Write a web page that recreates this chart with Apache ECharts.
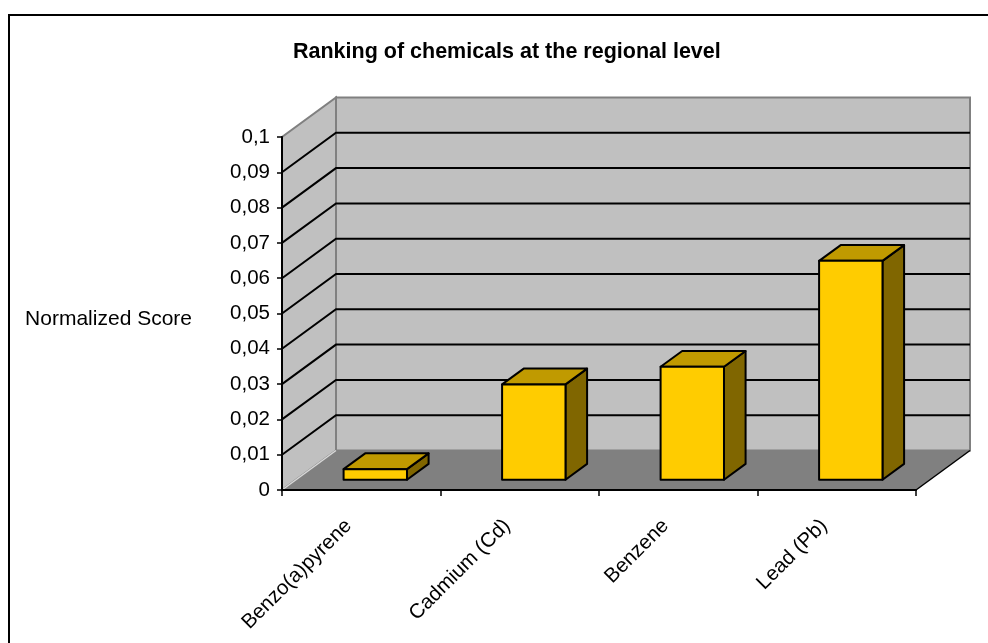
<!DOCTYPE html>
<html>
<head>
<meta charset="utf-8">
<script src="https://cdn.jsdelivr.net/npm/echarts@6/dist/echarts.min.js"></script>
<style>
  html, body { margin: 0; padding: 0; background: #ffffff; }
  #chart { width: 988px; height: 643px; }
</style>
</head>
<body>
<div id="chart"></div>
<script>
// Chemicals ranked by normalized score at the regional level
var categories = ['Benzo(a)pyrene', 'Cadmium (Cd)', 'Benzene', 'Lead (Pb)'];
var scores = [0.003, 0.027, 0.032, 0.062];
var yTicks = [0, 0.01, 0.02, 0.03, 0.04, 0.05, 0.06, 0.07, 0.08, 0.09, 0.1];
var yTickLabels = ['0', '0,01', '0,02', '0,03', '0,04', '0,05', '0,06', '0,07', '0,08', '0,09', '0,1'];

// oblique depth vector of the 3D box (pixels)
var DEPTH = [54, -39.5];
// bars occupy this slice of the depth
var BAR_FRONT = 0.26, BAR_BACK = 0.66;
var BAR_WIDTH_RATIO = 0.4;

var FONT = 'Liberation Sans, Arial, sans-serif';

function shift(p, f) {
  return [p[0] + DEPTH[0] * f, p[1] + DEPTH[1] * f];
}

function renderWalls(params, api) {
  var cs = params.coordSys;
  var left = cs.x, right = cs.x + cs.width;
  var bottom = api.coord([0, yTicks[0]])[1];
  var top = api.coord([0, yTicks[yTicks.length - 1]])[1];
  var children = [];

  // floor
  children.push({
    type: 'polygon',
    shape: { points: [[left, bottom], [right, bottom], shift([right, bottom], 1), shift([left, bottom], 1)] },
    style: { fill: '#808080', stroke: null }
  });
  // back wall
  var bl = shift([left, bottom], 1), tl = shift([left, top], 1);
  var tr = shift([right, top], 1), br = shift([right, bottom], 1);
  children.push({
    type: 'polygon',
    shape: { points: [bl, tl, tr, br] },
    style: { fill: '#c0c0c0', stroke: '#808080', lineWidth: 2 }
  });
  // side wall
  children.push({
    type: 'polygon',
    shape: { points: [[left, bottom], [left, top], tl, bl] },
    style: { fill: '#c0c0c0', stroke: '#808080', lineWidth: 2 }
  });
  // light seam where side wall meets floor
  children.push({
    type: 'line',
    shape: { x1: left, y1: bottom, x2: bl[0], y2: bl[1] },
    style: { stroke: '#d8d8d8', lineWidth: 1.5 }
  });
  // gridlines on both walls
  for (var i = 1; i < yTicks.length - 1; i++) {
    var y = api.coord([0, yTicks[i]])[1];
    var pf = [left, y], pb = shift(pf, 1), pr = shift([right, y], 1);
    children.push({
      type: 'polyline',
      shape: { points: [pf, pb, pr] },
      style: { stroke: '#000000', lineWidth: 2, fill: null }
    });
  }
  // right edge of floor
  children.push({
    type: 'line',
    shape: { x1: right, y1: bottom, x2: br[0], y2: br[1] },
    style: { stroke: '#000000', lineWidth: 1.5 }
  });
  return { type: 'group', children: children };
}

function renderBar(params, api) {
  var idx = api.value(0);
  var val = api.value(1);
  var base = api.coord([idx, 0]);
  var peak = api.coord([idx, val]);
  var w = api.size([1, 0])[0] * BAR_WIDTH_RATIO;
  var x0 = base[0] - w / 2, x1 = base[0] + w / 2;
  var fbl = shift([x0, base[1]], BAR_FRONT), fbr = shift([x1, base[1]], BAR_FRONT);
  var ftl = shift([x0, peak[1]], BAR_FRONT), ftr = shift([x1, peak[1]], BAR_FRONT);
  var btl = shift([x0, peak[1]], BAR_BACK), btr = shift([x1, peak[1]], BAR_BACK);
  var bbr = shift([x1, base[1]], BAR_BACK);
  var edge = { stroke: '#000000', lineWidth: 2, lineJoin: 'round' };
  return {
    type: 'group',
    children: [
      { type: 'polygon', shape: { points: [fbr, ftr, btr, bbr] },
        style: Object.assign({ fill: '#806600' }, edge) },
      { type: 'polygon', shape: { points: [ftl, ftr, btr, btl] },
        style: Object.assign({ fill: '#c09a00' }, edge) },
      { type: 'polygon', shape: { points: [fbl, ftl, ftr, fbr] },
        style: Object.assign({ fill: '#ffcc00' }, edge) }
    ]
  };
}

var chart = echarts.init(document.getElementById('chart'), null, { renderer: 'canvas' });

chart.setOption({
  backgroundColor: '#ffffff',
  animation: false,
  title: {
    text: 'Ranking of chemicals at the regional level',
    left: 288,
    top: 36,
    textAlign: 'left',
    textStyle: { fontFamily: FONT, fontSize: 21.5, fontWeight: 'bold', color: '#000000' }
  },
  graphic: [{
    type: 'rect',
    shape: { x: 9, y: 15, width: 1000, height: 700 },
    style: { fill: null, stroke: '#000000', lineWidth: 2 },
    silent: true
  }],
  grid: { left: 282, top: 137, width: 634, height: 353, containLabel: false },
  xAxis: {
    type: 'category',
    data: categories,
    boundaryGap: true,
    z: 5,
    axisLine: { show: true, lineStyle: { color: '#000000', width: 2 } },
    axisTick: { show: true, length: 6, alignWithLabel: false, lineStyle: { color: '#000000', width: 1.5 } },
    axisLabel: {
      rotate: 45, margin: 20, interval: 0,
      padding: [0, 18, 0, 0],
      fontFamily: FONT, fontSize: 20.5, color: '#000000'
    },
    splitLine: { show: false }
  },
  yAxis: {
    type: 'value',
    min: 0, max: 0.1, interval: 0.01,
    z: 5,
    name: 'Normalized Score',
    nameLocation: 'middle',
    nameRotate: 0,
    nameGap: 90,
    nameTextStyle: {
      fontFamily: FONT, fontSize: 21, color: '#000000',
      align: 'right', verticalAlign: 'top', lineHeight: 12
    },
    axisLine: { show: true, lineStyle: { color: '#000000', width: 2 } },
    axisTick: { show: true, length: 5, lineStyle: { color: '#000000', width: 1.5 } },
    axisLabel: {
      margin: 12, fontFamily: FONT, fontSize: 20.5, color: '#000000',
      formatter: function (v) {
        var i = yTicks.findIndex(function (t) { return Math.abs(t - v) < 1e-9; });
        return i >= 0 ? yTickLabels[i] : '';
      }
    },
    splitLine: { show: false }
  },
  series: [
    {
      type: 'custom',
      name: 'walls',
      z: 1,
      silent: true,
      data: [[0, 0]],
      renderItem: renderWalls
    },
    {
      type: 'custom',
      name: 'Normalized Score',
      z: 3,
      data: scores.map(function (s, i) { return [i, s]; }),
      encode: { x: 0, y: 1 },
      renderItem: renderBar
    }
  ]
});
</script>
</body>
</html>
